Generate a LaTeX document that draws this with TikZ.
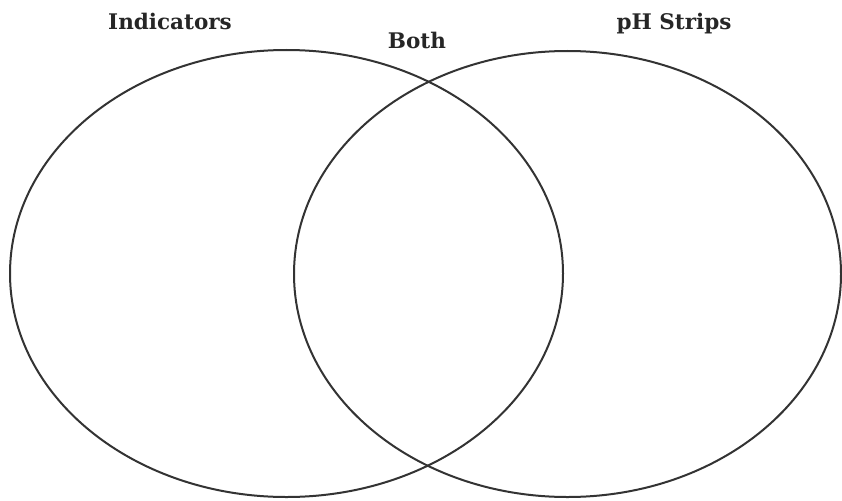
\documentclass[tikz,border=0pt]{standalone}
\usepackage{fontspec}
\setmainfont{DejaVu Serif}
\begin{document}
\begin{tikzpicture}[x=1pt,y=-1pt,
  venn/.style={draw=black!80, line width=2pt},
  lbl/.style={anchor=base, font=\bfseries\fontsize{21.5}{24}\selectfont, text=black!85, inner sep=0pt}]
\useasboundingbox (0,0) rectangle (842,500);
\draw[venn] (286.5,273.5) ellipse [x radius=276.5, y radius=223.5];
\draw[venn] (567.5,274) ellipse [x radius=273.5, y radius=223];
\node[lbl] (ind) at (170,30) {Indicators};
\node[lbl] (both) at (417,49) {Both};
\node[lbl] (ph) at (674,30) {pH Strips};
\end{tikzpicture}
\end{document}
